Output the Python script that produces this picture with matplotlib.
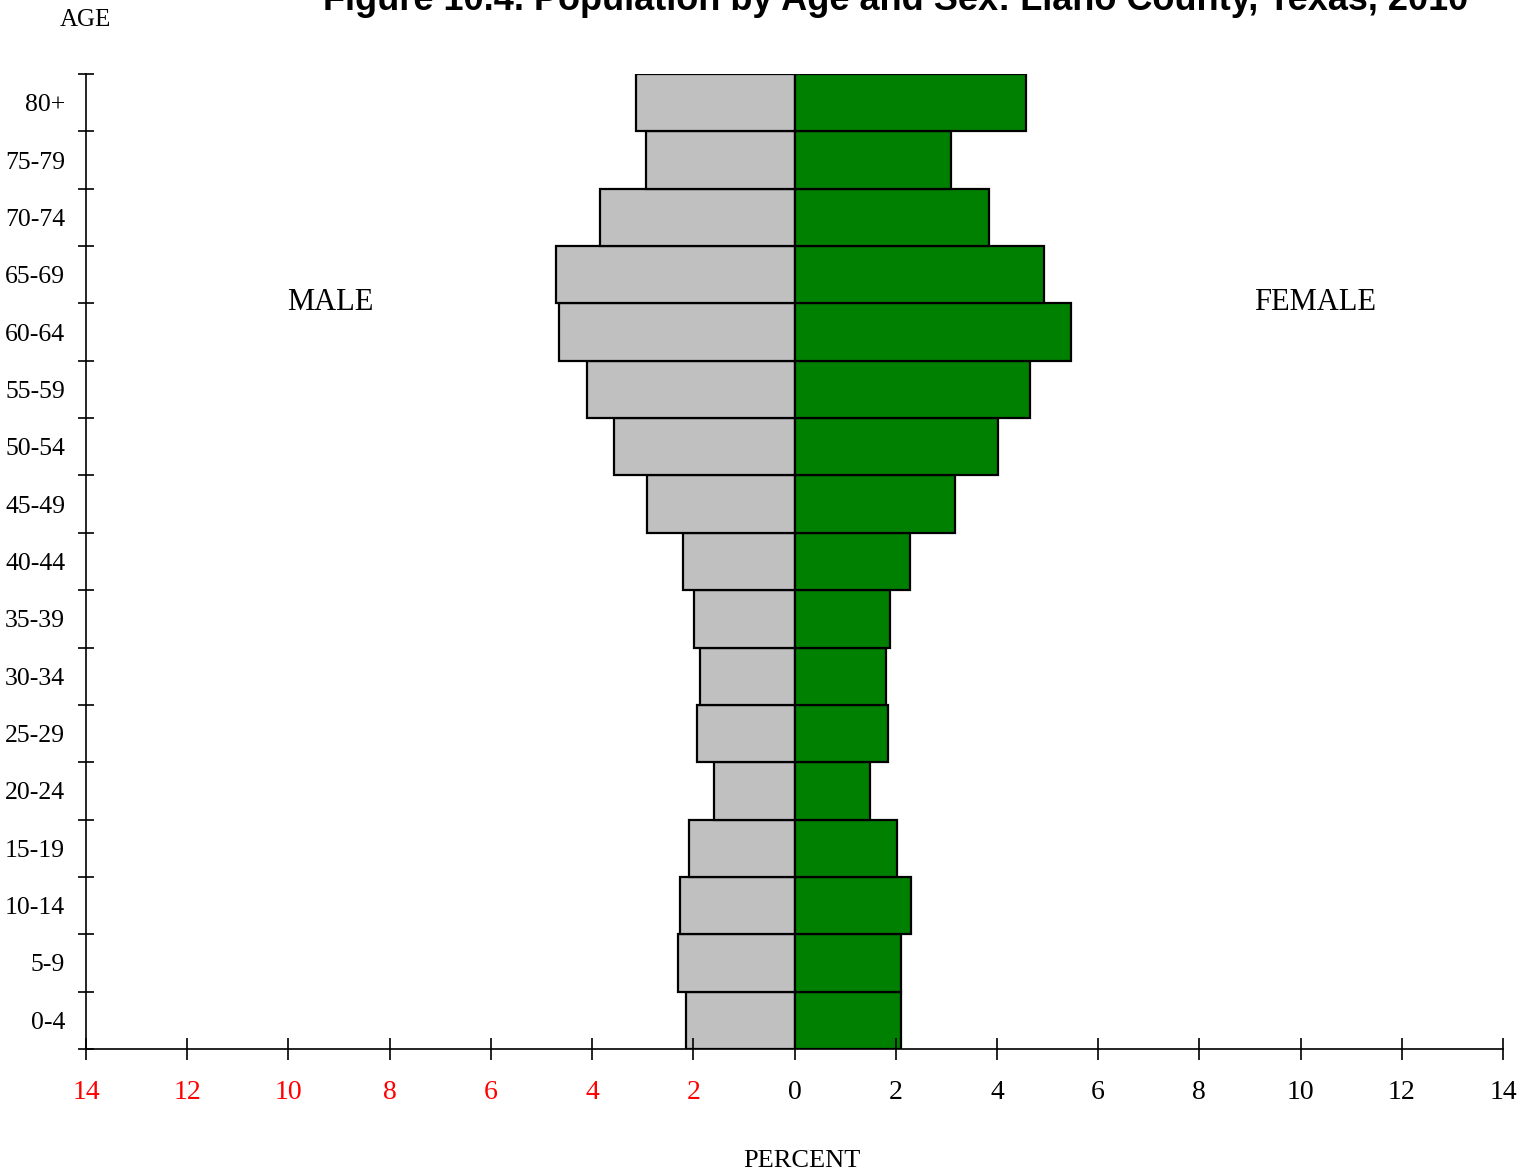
import matplotlib
matplotlib.use("Agg")
import matplotlib.pyplot as plt
import numpy as np

age_groups = ["0-4", "5-9", "10-14", "15-19", "20-24", "25-29", "30-34", "35-39",
              "40-44", "45-49", "50-54", "55-59", "60-64", "65-69", "70-74", "75-79", "80+"]
male_pct = [2.15, 2.31, 2.27, 2.09, 1.60, 1.92, 1.86, 1.99,
            2.21, 2.92, 3.57, 4.11, 4.66, 4.72, 3.85, 2.94, 3.14]
female_pct = [2.11, 2.11, 2.31, 2.03, 1.50, 1.84, 1.80, 1.88,
              2.29, 3.18, 4.03, 4.66, 5.47, 4.94, 3.85, 3.10, 4.58]
x_ticks = [-14, -12, -10, -8, -6, -4, -2, 0, 2, 4, 6, 8, 10, 12, 14]
x_ticklabels = ["14", "12", "10", "8", "6", "4", "2", "0", "2", "4", "6", "8", "10", "12", "14"]

serif = "Liberation Serif"

fig = plt.figure(figsize=(15.25, 11.75), dpi=100)
ax = fig.add_axes([86/1525, 1 - 1049/1175, (1503-86)/1525, (1049-74)/1175])

y = np.arange(len(age_groups)) + 0.5
ax.barh(y, [-v for v in male_pct], height=1.0, color="#C0C0C0", edgecolor="black", linewidth=1.6)
ax.barh(y, female_pct, height=1.0, color="#008000", edgecolor="black", linewidth=1.6)

ax.set_xlim(-14, 14)
ax.set_ylim(0, len(age_groups))
for s in ["top", "right"]:
    ax.spines[s].set_visible(False)
ax.spines["left"].set_linewidth(1.2)
ax.spines["bottom"].set_linewidth(1.2)

ax.set_xticks(x_ticks)
ax.set_xticklabels(x_ticklabels, fontfamily=serif, fontsize=20)
for lbl, v in zip(ax.get_xticklabels(), x_ticks):
    lbl.set_color("red" if v < 0 else "black")
ax.tick_params(axis="x", direction="inout", length=16, width=1.2, pad=14)

ax.set_yticks(np.arange(len(age_groups) + 1), minor=False)
ax.set_yticklabels([""] * (len(age_groups) + 1))
ax.tick_params(axis="y", which="major", direction="inout", length=12, width=1.2)
ax.set_yticks(y, minor=True)
ax.set_yticklabels(age_groups, minor=True, fontfamily=serif, fontsize=18.5)
ax.tick_params(axis="y", which="minor", length=0, pad=15)

fig.text(85/1525, 1 - 20/1175, "AGE", ha="center", va="center", fontfamily=serif, fontsize=18)
fig.text(330/1525, 1 - 302/1175, "MALE", ha="center", va="center", fontfamily=serif, fontsize=22)
fig.text(1315/1525, 1 - 302/1175, "FEMALE", ha="center", va="center", fontfamily=serif, fontsize=22)
fig.text(802/1525, 1 - 1161/1175, "PERCENT", ha="center", va="center", fontfamily=serif, fontsize=19)
fig.text(896/1525, 1 - 0/1175, "Figure 10.4. Population by Age and Sex: Llano County, Texas, 2010",
         ha="center", va="center", fontfamily="Liberation Sans", fontweight="bold", fontsize=26)

fig.savefig("out.png", dpi=100)
